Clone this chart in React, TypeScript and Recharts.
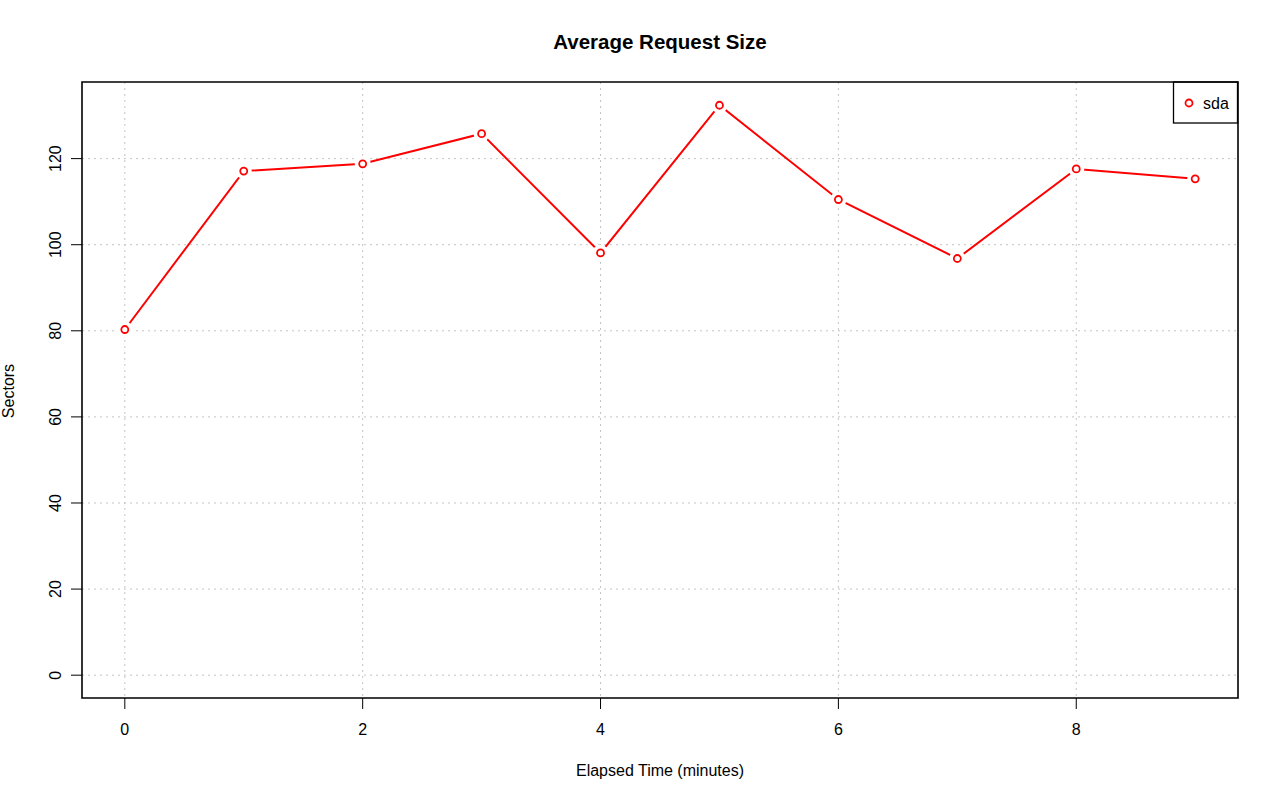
import React from 'react';
import { LineChart, Line, XAxis, YAxis, CartesianGrid, ReferenceArea } from 'recharts';

const minutes = [0, 1, 2, 3, 4, 5, 6, 7, 8, 9];
const sda = [80.3, 117.1, 118.8, 125.8, 98.1, 132.4, 110.5, 96.8, 117.6, 115.3];
const xTicks = [0, 2, 4, 6, 8];
const yTicks = [0, 20, 40, 60, 80, 100, 120];
const seriesName = 'sda';
const title = 'Average Request Size';
const xLabel = 'Elapsed Time (minutes)';
const yLabel = 'Sectors';

const data = minutes.map((m, i) => ({ m, sda: sda[i] }));

const FONT = '"Liberation Sans", Arial, Helvetica, sans-serif';
const X_DOMAIN: [number, number] = [-0.36, 9.36];
const Y_DOMAIN: [number, number] = [-5.3, 137.8];

const Dot = (props: any) => {
  const { cx, cy, index } = props;
  if (cx == null || cy == null) return null;
  return (
    <g key={`d${index}`}>
      <circle cx={cx} cy={cy} r={8} fill="#fff" stroke="none" />
      <circle cx={cx} cy={cy} r={3.5} fill="#fff" stroke="#ff0000" strokeWidth={1.8} />
    </g>
  );
};

const XTick = (props: any) => {
  const { x, payload } = props;
  return (
    <text x={x} y={735} textAnchor="middle" fontFamily={FONT} fontSize={16} fill="#000">
      {payload.value}
    </text>
  );
};

const YTick = (props: any) => {
  const { y, payload } = props;
  return (
    <text x={61} y={y} transform={`rotate(-90, 61, ${y})`} textAnchor="middle" fontFamily={FONT} fontSize={16} fill="#000">
      {payload.value}
    </text>
  );
};

export default function App() {
  return (
    <div style={{ position: 'absolute', left: 0, top: 0, width: 1280, height: 801, background: '#fff' }}>
      <LineChart width={1280} height={801} data={data} margin={{ top: 82, right: 42, bottom: 0, left: 0 }}>
        <CartesianGrid
          stroke="#c4c4c4"
          strokeDasharray="2 4"
          horizontalValues={yTicks}
          verticalValues={xTicks}
        />
        <XAxis
          dataKey="m"
          type="number"
          domain={X_DOMAIN}
          ticks={xTicks}
          allowDataOverflow
          height={103}
          axisLine={false}
          tickSize={11}
          tickLine={{ stroke: '#000', strokeWidth: 1 }}
          tick={<XTick />}
        />
        <YAxis
          type="number"
          domain={Y_DOMAIN}
          ticks={yTicks}
          allowDataOverflow
          width={82}
          axisLine={false}
          tickSize={11}
          tickLine={{ stroke: '#000', strokeWidth: 1 }}
          tick={<YTick />}
        />
        <ReferenceArea x1={X_DOMAIN[0]} x2={X_DOMAIN[1]} y1={Y_DOMAIN[0]} y2={Y_DOMAIN[1]} fill="none" stroke="#000" strokeWidth={1.6} ifOverflow="visible" />
        <Line
          dataKey="sda"
          name={seriesName}
          stroke="#ff0000"
          strokeWidth={2}
          dot={<Dot />}
          activeDot={false}
          isAnimationActive={false}
        />
        <text x={660} y={49} textAnchor="middle" fontFamily={FONT} fontSize={20.5} fontWeight="bold" fill="#000">
          {title}
        </text>
        <text x={660} y={776} textAnchor="middle" fontFamily={FONT} fontSize={16} fill="#000">
          {xLabel}
        </text>
        <text x={14} y={391} transform="rotate(-90, 14, 391)" textAnchor="middle" fontFamily={FONT} fontSize={16} fill="#000">
          {yLabel}
        </text>
        <g>
          <rect x={1173.5} y={82} width={64} height={41} fill="#fff" stroke="#000" strokeWidth={1.3} />
          <circle cx={1189} cy={103} r={3.5} fill="#fff" stroke="#ff0000" strokeWidth={1.8} />
          <text x={1203} y={109} fontFamily={FONT} fontSize={16} fill="#000">{seriesName}</text>
        </g>
      </LineChart>
    </div>
  );
}
